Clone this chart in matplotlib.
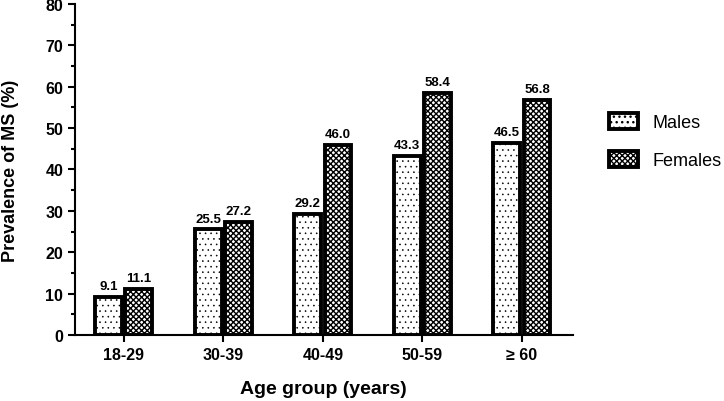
import numpy as np
import matplotlib.pyplot as plt
from matplotlib.ticker import MultipleLocator

plt.rcParams['font.family'] = ['Liberation Sans', 'DejaVu Sans']
plt.rcParams['hatch.linewidth'] = 1.0

groups = ['18-29', '30-39', '40-49', '50-59', '\u2265 60']
males = [9.1, 25.5, 29.2, 43.3, 46.5]
females = [11.1, 27.2, 46.0, 58.4, 56.8]

x = np.arange(len(groups))
w = 0.27

fig = plt.figure(figsize=(7.24, 4.02), dpi=100)
ax = fig.add_axes([0.1036, 0.164, 0.6874, 0.824])

b1 = ax.bar(x - 0.152, males, w, color='white', edgecolor='black', hatch='...', linewidth=2.8, label='Males')
b2 = ax.bar(x + 0.152, females, w, color='white', edgecolor='black', hatch='xxxxxx', linewidth=2.8, label='Females')

# thinner dots for males if supported
for b in b1:
    if hasattr(b, 'set_hatch_linewidth'):
        b.set_hatch_linewidth(0.4)

for bars, vals in ((b1, males), (b2, females)):
    for b, v in zip(bars, vals):
        ax.text(b.get_x() + b.get_width() / 2, v + 1.2, f'{v:.1f}', ha='center', va='bottom',
                fontsize=9.5, fontweight='bold')

ax.set_xlim(-0.49, 4.51)
ax.set_ylim(0, 80)
ax.set_xticks(x)
ax.set_xticklabels(groups)
ax.yaxis.set_major_locator(MultipleLocator(10))
ax.yaxis.set_minor_locator(MultipleLocator(5))
ax.spines['top'].set_visible(False)
ax.spines['right'].set_visible(False)
for s in ('left', 'bottom'):
    ax.spines[s].set_linewidth(1.5)
ax.tick_params(axis='both', which='major', width=1.5, length=5, labelsize=11.5)
ax.tick_params(axis='y', which='minor', width=1.5, length=3)
for lab in ax.get_xticklabels() + ax.get_yticklabels():
    lab.set_fontweight('bold')

ax.set_ylabel('Prevalence of MS (%)', fontsize=13, fontweight='bold')
ax.yaxis.set_label_coords(-0.112, 0.5)
ax.set_xlabel('Age group (years)', fontsize=14, fontweight='bold')
ax.xaxis.set_label_coords(0.5, -0.137)

leg = ax.legend(loc='upper left', bbox_to_anchor=(1.04, 0.72), frameon=False, fontsize=13,
                handlelength=1.6, handleheight=1.0, labelspacing=1.1)

fig.savefig('out.png', dpi=100)
